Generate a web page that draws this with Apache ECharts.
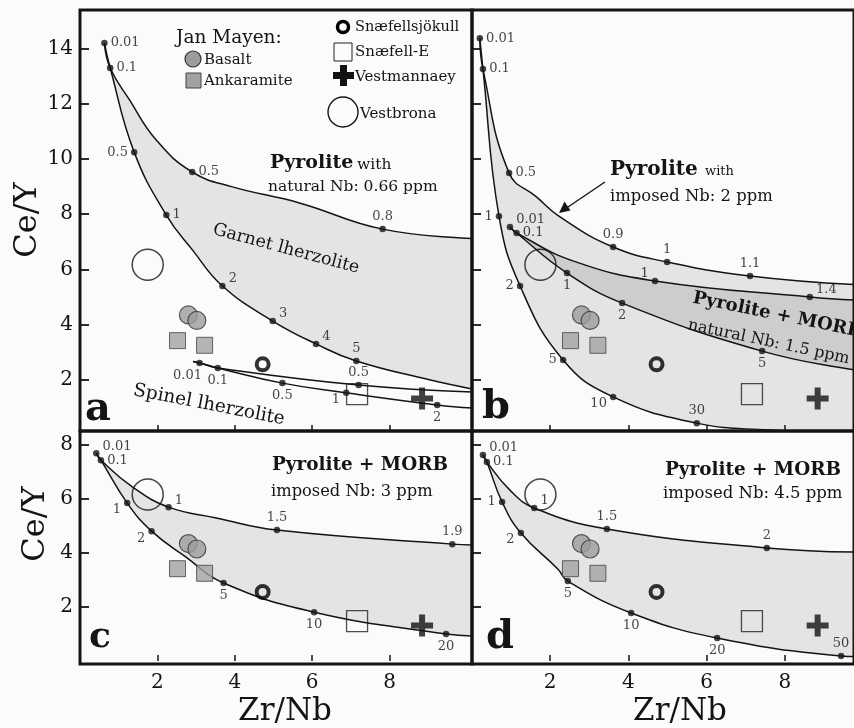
<!DOCTYPE html>
<html><head><meta charset="utf-8">
<script src="https://cdn.jsdelivr.net/npm/echarts@6/dist/echarts.min.js"></script>
<style>html,body{margin:0;padding:0;background:#fbfbfb}#c{width:854px;height:728px}</style>
</head><body><div id="c"></div>
<script>
// ---------- sample compositions (same in every panel) ----------
const basaltX = [2.80, 3.02], basaltY = [4.35, 4.15];
const ankaramiteX = [2.52, 3.22], ankaramiteY = [3.42, 3.25];
const snaefellsjokullX = [4.72], snaefellsjokullY = [2.56];
const snaefellEX = [7.16], snaefellEY = [1.48];
const vestmannaeyX = [8.84], vestmannaeyY = [1.32];
const vestbronaX = [1.75], vestbronaY = [6.17];

// ---------- panel a ----------
const aUpperX = [0.63, 0.78, 1.28, 1.97, 2.90, 3.94, 5.67, 7.82, 10.13];
const aUpperY = [14.2, 13.3, 12.14, 10.69, 9.53, 8.99, 8.41, 7.46, 7.12];
const aUpperPtX = [0.63, 0.78, 2.90, 7.82], aUpperPtY = [14.2, 13.3, 9.53, 7.46];
const aUpperPtT = ['0.01', '0.1', '0.5', '0.8'];
const aLowerX = [0.63, 0.78, 1.40, 2.23, 2.91, 3.68, 4.98, 6.10, 7.14, 9.03, 10.13];
const aLowerY = [14.2, 13.3, 10.25, 7.97, 6.70, 5.40, 4.13, 3.30, 2.68, 2.0, 1.67];
const aLowerPtX = [1.40, 2.23, 3.68, 4.98, 6.10, 7.14], aLowerPtY = [10.25, 7.97, 5.40, 4.13, 3.30, 2.68];
const aLowerPtT = ['0.5', '1', '2', '3', '4', '5'];
const aSpUpX = [2.92, 3.09, 3.56, 7.20, 10.13], aSpUpY = [2.66, 2.61, 2.43, 1.81, 1.56];
const aSpLoX = [2.92, 3.09, 3.56, 5.23, 6.88, 9.23, 10.13], aSpLoY = [2.66, 2.61, 2.43, 1.88, 1.53, 1.09, 0.98];
const aSpPtX = [3.09, 3.56], aSpPtY = [2.61, 2.43], aSpPtT = ['0.01', '0.1'];
const aSpUpPtX = [7.20], aSpUpPtY = [1.81], aSpUpPtT = ['0.5'];
const aSpLoPtX = [5.23, 6.88, 9.23], aSpLoPtY = [1.88, 1.53, 1.09], aSpLoPtT = ['0.5', '1', '2'];

// ---------- panel b ----------
const b1X = [0.20, 0.28, 0.95, 1.65, 2.25, 3.61, 4.99, 7.11, 9.77];
const b1Y = [14.38, 13.26, 9.49, 8.63, 7.9, 6.81, 6.27, 5.76, 5.45];
const b1PtX = [0.20, 0.28, 0.95, 3.61, 4.99, 7.11], b1PtY = [14.38, 13.26, 9.49, 6.81, 6.27, 5.76];
const b1PtT = ['0.01', '0.1', '0.5', '0.9', '1', '1.1'];
const b2X = [0.20, 0.28, 0.69, 1.23, 2.33, 3.61, 5.75, 7.6, 9.77];
const b2Y = [14.38, 13.26, 7.93, 5.40, 2.72, 1.38, 0.43, 0.18, 0.05];
const b2PtX = [0.69, 1.23, 2.33, 3.61, 5.75], b2PtY = [7.93, 5.40, 2.72, 1.38, 0.43];
const b2PtT = ['1', '2', '5', '10', '30'];
const b3X = [0.97, 1.14, 2.6, 4.68, 8.64, 9.77], b3Y = [7.54, 7.32, 6.3, 5.58, 5.00, 4.89];
const b4X = [0.97, 1.14, 2.43, 3.84, 7.42, 9.77], b4Y = [7.54, 7.32, 5.87, 4.78, 3.04, 2.36];
const b34PtX = [0.97, 1.14], b34PtY = [7.54, 7.32], b34PtT = ['0.01', '0.1'];
const b3PtX = [4.68, 8.64], b3PtY = [5.58, 5.00], b3PtT = ['1', '1.4'];
const b4PtX = [2.43, 3.84, 7.42], b4PtY = [5.87, 4.78, 3.04], b4PtT = ['1', '2', '5'];

// ---------- panel c ----------
const c1X = [0.42, 0.54, 1.36, 2.29, 3.52, 5.09, 9.62, 10.13], c1Y = [7.70, 7.44, 6.44, 5.70, 5.30, 4.85, 4.33, 4.30];
const c2X = [0.42, 0.54, 1.22, 1.85, 2.74, 3.71, 6.05, 9.46, 10.13], c2Y = [7.70, 7.44, 5.85, 4.81, 3.85, 2.89, 1.81, 1.0, 0.93];
const cPtX = [0.42, 0.54], cPtY = [7.70, 7.44], cPtT = ['0.01', '0.1'];
const c1PtX = [2.29, 5.09, 9.62], c1PtY = [5.70, 4.85, 4.33], c1PtT = ['1', '1.5', '1.9'];
const c2PtX = [1.22, 1.85, 3.71, 6.05, 9.46], c2PtY = [5.85, 4.81, 2.89, 1.81, 1.0], c2PtT = ['1', '2', '5', '10', '20'];

// ---------- panel d ----------
const d1X = [0.28, 0.38, 0.97, 1.59, 3.45, 7.54, 9.77], d1Y = [7.63, 7.37, 6.33, 5.67, 4.89, 4.19, 4.04];
const d2X = [0.28, 0.38, 0.77, 1.25, 2.2, 2.45, 4.07, 6.27, 9.44, 9.77], d2Y = [7.63, 7.37, 5.89, 4.74, 3.4, 2.96, 1.78, 0.85, 0.19, 0.17];
const dPtX = [0.28, 0.38], dPtY = [7.63, 7.37], dPtT = ['0.01', '0.1'];
const d1PtX = [1.59, 3.45, 7.54], d1PtY = [5.67, 4.89, 4.19], d1PtT = ['1', '1.5', '2'];
const d2PtX = [0.77, 1.25, 2.45, 4.07, 6.27, 9.44], d2PtY = [5.89, 4.74, 2.96, 1.78, 0.85, 0.19], d2PtT = ['1', '2', '5', '10', '20', '50'];

// ---------- axis ticks ----------
const xTicks = [2, 4, 6, 8];
const yTicksTop = [2, 4, 6, 8, 10, 12, 14];
const yTicksBottom = [2, 4, 6, 8];

// ---------- layout / styles ----------
const FONT = "'DejaVu Serif', serif";
const BG = '#fbfbfb', LIGHT = '#e4e4e4', DARK = '#cdcdcd', INK = '#141414';
const SMOOTH = 0.45;
const LP = {
  r: {position: 'right'}, l: {position: 'left'}, t: {position: 'top'}, b: {position: 'bottom'},
  tr: {position: 'right', offset: [0, -7]}, tl: {position: 'left', offset: [0, -7]},
  br: {position: 'right', offset: [0, 7]}, bl: {position: 'left', offset: [0, 7]},
  b2: {position: 'bottom', offset: [-12, 0]}
};

function pts(xs, ys) { return xs.map((x, i) => [x, ys[i]]); }
function lineS(p, xs, ys) {
  return {type: 'line', xAxisIndex: p, yAxisIndex: p, data: pts(xs, ys), smooth: SMOOTH,
    symbol: 'none', lineStyle: {color: INK, width: 1.5}, z: 6, silent: true};
}
// from: index of first point used for the fill (skipping the shared start hides a hairline edge)
function fillS(p, xs, ys, color, z, from) {
  return {type: 'line', xAxisIndex: p, yAxisIndex: p, data: pts(xs, ys).slice(from || 0), smooth: SMOOTH,
    symbol: 'none', lineStyle: {width: 0}, areaStyle: {color: color, opacity: 1, origin: 'start'}, z: z, silent: true};
}
function dots(p, xs, ys, txt, pos) {
  return {type: 'scatter', xAxisIndex: p, yAxisIndex: p, z: 8, symbol: 'circle', symbolSize: 6.5,
    itemStyle: {color: INK}, silent: true,
    data: xs.map((x, i) => ({value: [x, ys[i]], label: Object.assign({show: true, formatter: txt[i], distance: 3,
      fontSize: 13, fontFamily: FONT, color: INK}, LP[pos[i]])}))};
}
const CROSS = 'path://M8,0H14V8H22V14H14V22H8V14H0V8H8Z';
function samples(p) {
  const base = {type: 'scatter', xAxisIndex: p, yAxisIndex: p, z: 9, silent: true};
  return [
    Object.assign({}, base, {data: pts(vestbronaX, vestbronaY), symbol: 'circle', symbolSize: 31,
      itemStyle: {color: 'rgba(0,0,0,0)', borderColor: INK, borderWidth: 1.5}}),
    Object.assign({}, base, {data: pts(basaltX, basaltY), symbol: 'circle', symbolSize: 18,
      itemStyle: {color: '#9c9c9c', borderColor: '#333', borderWidth: 1.2}}),
    Object.assign({}, base, {data: pts(ankaramiteX, ankaramiteY), symbol: 'rect', symbolSize: 16,
      itemStyle: {color: '#a2a2a2', borderColor: '#444', borderWidth: 1}}),
    Object.assign({}, base, {data: pts(snaefellsjokullX, snaefellsjokullY), symbol: 'circle', symbolSize: 12,
      itemStyle: {color: 'rgba(0,0,0,0)', borderColor: '#000', borderWidth: 4}}),
    Object.assign({}, base, {data: pts(snaefellEX, snaefellEY), symbol: 'rect', symbolSize: 21,
      itemStyle: {color: 'rgba(0,0,0,0)', borderColor: '#222', borderWidth: 1.3}}),
    Object.assign({}, base, {data: pts(vestmannaeyX, vestmannaeyY), symbol: CROSS, symbolSize: 22,
      itemStyle: {color: '#111'}})
  ];
}

const series = [
  fillS(0, aUpperX, aUpperY, LIGHT, 1, 1), fillS(0, aLowerX, aLowerY, BG, 2),
  lineS(0, aUpperX, aUpperY), lineS(0, aLowerX, aLowerY), lineS(0, aSpUpX, aSpUpY), lineS(0, aSpLoX, aSpLoY),
  dots(0, aUpperPtX, aUpperPtY, aUpperPtT, ['r', 'r', 'r', 't']),
  dots(0, aLowerPtX, aLowerPtY, aLowerPtT, ['l', 'r', 'tr', 'tr', 'tr', 't']),
  dots(0, aSpPtX, aSpPtY, aSpPtT, ['b2', 'b']),
  dots(0, aSpUpPtX, aSpUpPtY, aSpUpPtT, ['t']),
  dots(0, aSpLoPtX, aSpLoPtY, aSpLoPtT, ['b', 'bl', 'b']),
  fillS(1, b1X, b1Y, LIGHT, 1, 1), fillS(1, b3X, b3Y, DARK, 2, 1), fillS(1, b4X, b4Y, LIGHT, 3), fillS(1, b2X, b2Y, BG, 4),
  lineS(1, b1X, b1Y), lineS(1, b2X, b2Y), lineS(1, b3X, b3Y), lineS(1, b4X, b4Y),
  dots(1, b1PtX, b1PtY, b1PtT, ['r', 'r', 'r', 't', 't', 't']),
  dots(1, b2PtX, b2PtY, b2PtT, ['l', 'l', 'l', 'bl', 't']),
  dots(1, b34PtX, b34PtY, b34PtT, ['tr', 'r']),
  dots(1, b3PtX, b3PtY, b3PtT, ['tl', 'tr']),
  dots(1, b4PtX, b4PtY, b4PtT, ['b', 'b', 'b']),
  fillS(2, c1X, c1Y, LIGHT, 1, 1), fillS(2, c2X, c2Y, BG, 2),
  lineS(2, c1X, c1Y), lineS(2, c2X, c2Y),
  dots(2, cPtX, cPtY, cPtT, ['tr', 'r']),
  dots(2, c1PtX, c1PtY, c1PtT, ['tr', 't', 't']),
  dots(2, c2PtX, c2PtY, c2PtT, ['bl', 'bl', 'b', 'b', 'b']),
  fillS(3, d1X, d1Y, LIGHT, 1, 1), fillS(3, d2X, d2Y, BG, 2),
  lineS(3, d1X, d1Y), lineS(3, d2X, d2Y),
  dots(3, dPtX, dPtY, dPtT, ['tr', 'r']),
  dots(3, d1PtX, d1PtY, d1PtT, ['tr', 't', 't']),
  dots(3, d2PtX, d2PtY, d2PtT, ['l', 'bl', 'b', 'b', 'b', 't'])
].concat(samples(0), samples(1), samples(2), samples(3));

function gridDef(left, top, width, height) {
  return {left, top, width, height, show: true, borderColor: INK, borderWidth: 3, backgroundColor: 'transparent', z: 10};
}
function xAx(g, max, labels) {
  return {gridIndex: g, type: 'value', min: 0, max: max, z: 11,
    axisLine: {show: false}, splitLine: {show: false},
    axisTick: {show: true, inside: true, length: 6, customValues: xTicks, lineStyle: {color: INK, width: 1.5}},
    axisLabel: {show: labels, customValues: xTicks, margin: 9, fontSize: 20, fontFamily: FONT, color: INK}};
}
function yAx(g, min, max, ticks, labels) {
  return {gridIndex: g, type: 'value', min: min, max: max, z: 11,
    axisLine: {show: false}, splitLine: {show: false},
    axisTick: {show: true, inside: true, length: 9, customValues: ticks, lineStyle: {color: INK, width: 1.8}},
    axisLabel: {show: labels, customValues: ticks, margin: 7, fontSize: 20, fontFamily: FONT, color: INK}};
}

function txt(x, y, s, size, opts) {
  const el = {type: 'text', x, y, z: 20, silent: true,
    style: Object.assign({text: s, fill: INK, font: size + 'px ' + FONT, align: 'left', verticalAlign: 'middle'}, (opts && opts.style) || {})};
  if (opts && opts.rotation !== undefined) el.rotation = opts.rotation;
  return el;
}
const deg = Math.PI / 180;
const graphics = [
  txt(28, 220, 'Ce/Y', 32, {rotation: 90 * deg, style: {align: 'center'}}),
  txt(36, 524, 'Ce/Y', 32, {rotation: 90 * deg, style: {align: 'center'}}),
  txt(285, 712, 'Zr/Nb', 31, {style: {align: 'center'}}),
  txt(680, 712, 'Zr/Nb', 31, {style: {align: 'center'}}),
  txt(98, 410, 'a', 40, {style: {align: 'center', font: 'bold 40px ' + FONT}}),
  txt(496, 408, 'b', 40, {style: {align: 'center', font: 'bold 40px ' + FONT}}),
  txt(100, 638, 'c', 36, {style: {align: 'center', font: 'bold 36px ' + FONT}}),
  txt(500, 638, 'd', 40, {style: {align: 'center', font: 'bold 40px ' + FONT}}),
  txt(176, 38, 'Jan Mayen:', 18.5),
  {type: 'circle', z: 20, silent: true, shape: {cx: 193, cy: 59, r: 8}, style: {fill: '#9c9c9c', stroke: '#333', lineWidth: 1.2}},
  txt(204, 60, 'Basalt', 15),
  {type: 'rect', z: 20, silent: true, shape: {x: 186, y: 73, width: 15, height: 15}, style: {fill: '#a2a2a2', stroke: '#444', lineWidth: 1}},
  txt(204, 81, 'Ankaramite', 15),
  {type: 'circle', z: 20, silent: true, shape: {cx: 343, cy: 27, r: 5.5}, style: {fill: 'none', stroke: '#000', lineWidth: 3.5}},
  txt(355, 27, 'Snæfellsjökull', 14.5),
  {type: 'rect', z: 20, silent: true, shape: {x: 334, y: 43, width: 18, height: 18}, style: {fill: 'none', stroke: '#222', lineWidth: 1}},
  txt(355, 52, 'Snæfell-E', 15),
  {type: 'polygon', z: 20, silent: true, shape: {points: [[340, 65], [347, 65], [347, 72], [354, 72], [354, 79], [347, 79], [347, 86], [340, 86], [340, 79], [333, 79], [333, 72], [340, 72]]}, style: {fill: '#111'}},
  txt(355, 77, 'Vestmannaey', 15),
  {type: 'circle', z: 20, silent: true, shape: {cx: 343, cy: 112, r: 15}, style: {fill: 'none', stroke: INK, lineWidth: 1.4}},
  txt(360, 114, 'Vestbrona', 15),
  txt(270, 163, 'Pyrolite', 19, {style: {font: 'bold 19px ' + FONT}}),
  txt(357, 165, 'with', 15.5),
  txt(268, 187, 'natural Nb: 0.66 ppm', 15.5),
  txt(286, 249, 'Garnet lherzolite', 17.5, {rotation: -15 * deg, style: {align: 'center'}}),
  txt(209, 405, 'Spinel lherzolite', 18.5, {rotation: -11 * deg, style: {align: 'center'}}),
  txt(610, 170, 'Pyrolite', 20, {style: {font: 'bold 20px ' + FONT}}),
  txt(705, 172, 'with', 13),
  txt(610, 197, 'imposed Nb: 2 ppm', 16.4),
  {type: 'line', z: 20, silent: true, shape: {x1: 605, y1: 182, x2: 565, y2: 209}, style: {stroke: INK, lineWidth: 1.4}},
  {type: 'polygon', z: 20, silent: true, shape: {points: [[559, 213], [570.5, 210.5], [564.5, 201.5]]}, style: {fill: INK}},
  txt(693, 298, 'Pyrolite + MORB', 18, {rotation: -11.5 * deg, style: {font: 'bold 18px ' + FONT}}),
  txt(688, 325, 'natural Nb: 1.5 ppm', 16, {rotation: -12 * deg}),
  txt(272, 465, 'Pyrolite + MORB', 18.4, {style: {font: 'bold 18.4px ' + FONT}}),
  txt(271, 492, 'imposed Nb: 3 ppm', 16.3),
  txt(665, 470, 'Pyrolite + MORB', 18.4, {style: {font: 'bold 18.4px ' + FONT}}),
  txt(663, 494, 'imposed Nb: 4.5 ppm', 16.5)
];

const chart = echarts.init(document.getElementById('c'), null, {renderer: 'canvas'});
chart.setOption({
  backgroundColor: BG,
  animation: false,
  grid: [gridDef(80, 10, 392, 421), gridDef(472, 10, 382, 421), gridDef(80, 431, 392, 233), gridDef(472, 431, 382, 233)],
  xAxis: [xAx(0, 10.13, false), xAx(1, 9.77, false), xAx(2, 10.13, true), xAx(3, 9.77, true)],
  yAxis: [yAx(0, 0.145, 15.4, yTicksTop, true), yAx(1, 0.145, 15.4, yTicksTop, false),
          yAx(2, -0.11, 8.52, yTicksBottom, true), yAx(3, -0.11, 8.52, yTicksBottom, false)],
  series: series,
  graphic: graphics
});
</script></body></html>
